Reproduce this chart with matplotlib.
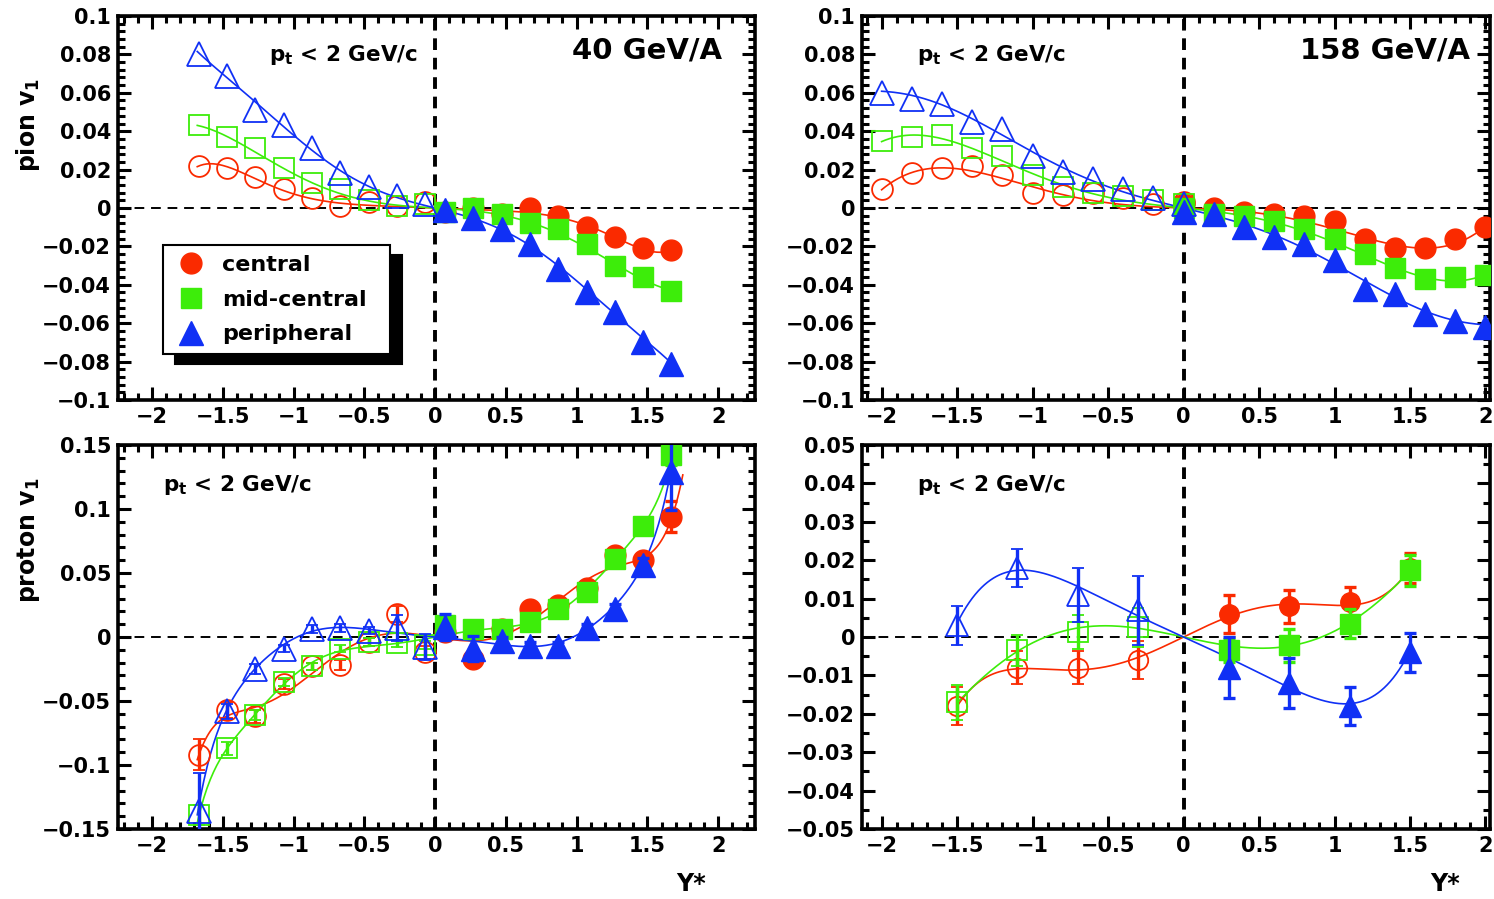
import numpy as np
import matplotlib
matplotlib.use("Agg")
import matplotlib.pyplot as plt
from matplotlib.ticker import MultipleLocator, AutoMinorLocator, FuncFormatter

plt.rcParams['font.family'] = ['DejaVu Sans']
plt.rcParams['font.weight'] = 'bold'
plt.rcParams['mathtext.fontset'] = 'dejavusans'
plt.rcParams['mathtext.default'] = 'bf'

# centrality classes
classes = ['central', 'mid-central', 'peripheral']
colors = ['#fa2a00', '#3ded0a', '#1030f5']
markers = ['o', 's', '^']

# pion v1, 40 GeV/A (filled: measured side, open: backward side)
y40_neg = [-1.67, -1.47, -1.27, -1.07, -0.87, -0.67, -0.47, -0.27, -0.07]
y40_pos = [0.07, 0.27, 0.47, 0.67, 0.87, 1.07, 1.27, 1.47, 1.67]
pi40_neg = [
    [0.022, 0.021, 0.016, 0.010, 0.005, 0.001, 0.003, 0.001, 0.003],
    [0.043, 0.037, 0.031, 0.021, 0.013, 0.010, 0.004, 0.001, 0.002],
    [0.080, 0.069, 0.051, 0.043, 0.031, 0.018, 0.011, 0.006, 0.002],
]
pi40_pos = [
    [-0.002, 0.000, -0.003, 0.000, -0.004, -0.010, -0.015, -0.021, -0.022],
    [-0.002, 0.000, -0.003, -0.008, -0.011, -0.019, -0.030, -0.036, -0.043],
    [-0.001, -0.005, -0.011, -0.019, -0.032, -0.044, -0.054, -0.070, -0.081],
]

# pion v1, 158 GeV/A
y158_neg = [-2.0, -1.8, -1.6, -1.4, -1.2, -1.0, -0.8, -0.6, -0.4, -0.2, 0.0]
y158_pos = [0.0, 0.2, 0.4, 0.6, 0.8, 1.0, 1.2, 1.4, 1.6, 1.8, 2.0]
pi158_neg = [
    [0.010, 0.018, 0.021, 0.022, 0.017, 0.008, 0.007, 0.008, 0.005, 0.002, 0.003],
    [0.035, 0.037, 0.038, 0.031, 0.027, 0.017, 0.011, 0.008, 0.006, 0.004, 0.002],
    [0.060, 0.057, 0.054, 0.045, 0.041, 0.027, 0.019, 0.015, 0.010, 0.005, 0.002],
]
pi158_pos = [
    [0.002, 0.000, -0.002, -0.003, -0.004, -0.007, -0.016, -0.021, -0.021, -0.016, -0.010],
    [0.000, -0.003, -0.004, -0.007, -0.011, -0.016, -0.024, -0.031, -0.037, -0.036, -0.035],
    [-0.002, -0.003, -0.010, -0.015, -0.019, -0.027, -0.042, -0.045, -0.055, -0.059, -0.062],
]

# proton v1, 40 GeV/A
p40_neg = [
    [-0.092, -0.057, -0.062, -0.037, -0.023, -0.022, -0.004, 0.018, -0.012],
    [-0.139, -0.087, -0.061, -0.035, -0.023, -0.009, -0.004, -0.005, -0.006],
    [-0.136, -0.058, -0.025, -0.009, 0.006, 0.007, 0.005, 0.007, -0.008],
]
p40_pos = [
    [0.004, -0.017, 0.006, 0.022, 0.025, 0.038, 0.064, 0.060, 0.094],
    [0.009, 0.006, 0.006, 0.012, 0.022, 0.035, 0.061, 0.087, 0.142],
    [0.008, -0.009, -0.003, -0.007, -0.007, 0.007, 0.022, 0.056, 0.129],
]
# errors listed from |Y*| = 0.07 outwards
p40_err = [
    [0.005, 0.006, 0.003, 0.004, 0.003, 0.004, 0.005, 0.006, 0.012],
    [0.003, 0.003, 0.003, 0.003, 0.003, 0.003, 0.004, 0.005, 0.008],
    [0.010, 0.010, 0.003, 0.003, 0.003, 0.003, 0.004, 0.006, 0.030],
]

# proton v1, 158 GeV/A
yp158_neg = [-1.5, -1.1, -0.7, -0.3]
yp158_pos = [0.3, 0.7, 1.1, 1.5]
p158_neg = [
    [-0.018, -0.008, -0.008, -0.006],
    [-0.017, -0.0035, 0.0013, 0.0025],
    [0.003, 0.018, 0.011, 0.007],
]
p158_neg_err = [
    [0.005, 0.0043, 0.0043, 0.005],
    [0.0045, 0.004, 0.0045, 0.005],
    [0.005, 0.005, 0.007, 0.009],
]
p158_pos = [
    [0.006, 0.008, 0.009, 0.018],
    [-0.0035, -0.0022, 0.0035, 0.0174],
    [-0.008, -0.012, -0.018, -0.004],
]
p158_pos_err = [
    [0.005, 0.0043, 0.004, 0.004],
    [0.003, 0.0043, 0.0037, 0.004],
    [0.008, 0.0065, 0.005, 0.005],
]


def odd_fit(x, v, deg):
    # v1 is odd in rapidity: fit with odd powers only
    pw = np.arange(1, deg + 1, 2)
    A = np.column_stack([np.asarray(x) ** p for p in pw])
    c = np.linalg.lstsq(A, np.asarray(v), rcond=None)[0]
    return lambda t: np.column_stack([t ** p for p in pw]) @ c


def fmt(v, pos):
    v = round(v, 6) + 0.0
    return ('%g' % v).replace('-', '\u2212')


def style(ax, xlim, ylim, ymaj, yminor):
    ax.set_xlim(*xlim)
    ax.set_ylim(*ylim)
    ax.xaxis.set_major_locator(MultipleLocator(0.5))
    ax.xaxis.set_minor_locator(AutoMinorLocator(5))
    ax.yaxis.set_major_locator(MultipleLocator(ymaj))
    ax.yaxis.set_minor_locator(AutoMinorLocator(yminor))
    ax.xaxis.set_major_formatter(FuncFormatter(fmt))
    ax.yaxis.set_major_formatter(FuncFormatter(fmt))
    ax.tick_params(which='both', direction='in', top=True, right=True, width=2.2)
    ax.tick_params(which='major', length=9.5, labelsize=15, pad=5)
    ax.tick_params(which='minor', length=5)
    for s in ax.spines.values():
        s.set_linewidth(2.6)
    ax.axhline(0, color='black', lw=1.4, ls=(0, (5, 3.5)), zorder=1)
    ax.axvline(0, color='black', lw=2.8, ls=(0, (3, 2)), zorder=1)


def draw(ax, xn, xp, vn, vp, deg, xr, en=None, ep=None, ms=15):
    for i in range(3):
        c, m = colors[i], markers[i]
        size = ms + 2 if m == '^' else ms
        f = odd_fit(xn + xp, vn[i] + vp[i], deg)
        t = np.linspace(xr[0], xr[1], 300)
        ax.plot(t, f(t), color=c, lw=1.2, zorder=2)
        kw = dict(fmt=m, ms=size, color=c, ecolor=c, elinewidth=2.4,
                  capsize=4, capthick=2.4, zorder=3 + i)
        ax.errorbar(xn, vn[i], yerr=en[i] if en else None, mfc='none',
                    mec=c, mew=1.3, **kw)
        ax.errorbar(xp, vp[i], yerr=ep[i] if ep else None, mfc=c, mec=c,
                    label=classes[i], **kw)


fig = plt.figure(figsize=(14.94, 8.99), dpi=100)
W, H = 1494, 899


def axes_px(l, t, r, b):
    return fig.add_axes([l / W, 1 - b / H, (r - l) / W, (b - t) / H])


ax1 = axes_px(118, 16, 755, 400)
ax2 = axes_px(862, 16, 1490, 400)
ax3 = axes_px(118, 445, 755, 829)
ax4 = axes_px(862, 445, 1490, 829)

style(ax1, (-2.24, 2.26), (-0.1, 0.1), 0.02, 5)
style(ax2, (-2.13, 2.03), (-0.1, 0.1), 0.02, 5)
style(ax3, (-2.24, 2.26), (-0.15, 0.15), 0.05, 5)
style(ax4, (-2.13, 2.03), (-0.05, 0.05), 0.01, 2)

draw(ax1, y40_neg, y40_pos, pi40_neg, pi40_pos, 7, (-1.68, 1.68))
draw(ax2, y158_neg, y158_pos, pi158_neg, pi158_pos, 7, (-2.0, 2.0))
draw(ax3, y40_neg, y40_pos, p40_neg, p40_pos, 9, (-1.68, 1.75),
     en=[e[::-1] for e in p40_err], ep=p40_err)
draw(ax4, yp158_neg, yp158_pos, p158_neg, p158_pos, 5, (-1.5, 1.5),
     en=p158_neg_err, ep=p158_pos_err, ms=14)

pt_label = r'p$_\mathbf{t}$ < 2 GeV/c'
ax1.text(0.237, 0.898, pt_label, transform=ax1.transAxes, fontsize=15.5, va='center')
ax2.text(0.087, 0.898, pt_label, transform=ax2.transAxes, fontsize=15.5, va='center')
ax3.text(0.070, 0.896, pt_label, transform=ax3.transAxes, fontsize=15.5, va='center')
ax4.text(0.087, 0.896, pt_label, transform=ax4.transAxes, fontsize=15.5, va='center')
ax1.text(0.948, 0.91, '40 GeV/A', transform=ax1.transAxes, fontsize=21,
         ha='right', va='center')
ax2.text(0.968, 0.91, '158 GeV/A', transform=ax2.transAxes, fontsize=21,
         ha='right', va='center')

fig.text(28 / W, 1 - 125 / H, r'pion v$_\mathbf{1}$', rotation=90, fontsize=17,
         ha='center', va='center')
fig.text(28 / W, 1 - 540 / H, r'proton v$_\mathbf{1}$', rotation=90, fontsize=17,
         ha='center', va='center')
fig.text(691 / W, 1 - 884 / H, 'Y*', fontsize=17, ha='center', va='center')
fig.text(1445 / W, 1 - 884 / H, 'Y*', fontsize=17, ha='center', va='center')

# legend box stretched to a fixed width, black drop shadow
leg = ax1.legend(loc='upper left', mode='expand',
                 bbox_to_anchor=(0.0706, 0.1302, 0.3564, 0.2734), borderaxespad=0,
                 fancybox=False, edgecolor='black', framealpha=1,
                 shadow={'color': 'black', 'alpha': 1, 'ox': 9, 'oy': -7},
                 prop={'size': 16, 'weight': 'bold'}, handlelength=1.6,
                 handletextpad=0.6, labelspacing=0.66, borderpad=0.45)
leg.get_frame().set_linewidth(1.5)
leg.set_zorder(10)

fig.savefig('out.png', dpi=100)
